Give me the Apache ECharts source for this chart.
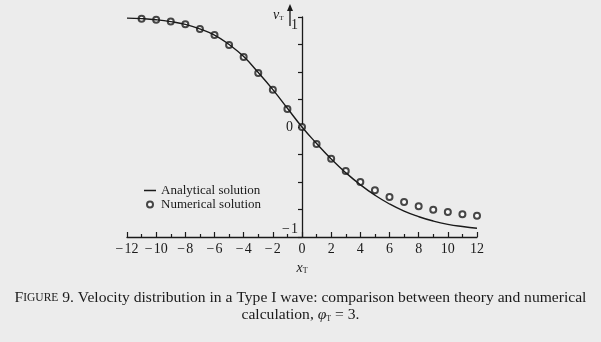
<!DOCTYPE html>
<html><head><meta charset="utf-8">
<script src="https://cdn.jsdelivr.net/npm/echarts@6/dist/echarts.min.js"></script>
<style>html,body{margin:0;padding:0;background:#ececec;}#c{width:601px;height:342px;}</style>
</head><body><div id="c"></div>
<script>
var xTicks = [-12,-10,-8,-6,-4,-2,0,2,4,6,8,10,12];
var yTickLabels = [-1,0,1];
var analyticalX = [-12,-11,-10,-9,-8,-7,-6,-5,-4,-3,-2,-1,0,1,2,3,4,5,6,7,8,9,10,11,12];
var analyticalY = [0.99,0.985,0.975,0.958,0.933,0.892,0.836,0.75,0.64,0.495,0.34,0.17,0,-0.15,-0.29,-0.415,-0.525,-0.62,-0.70,-0.765,-0.815,-0.855,-0.885,-0.905,-0.92];
var numericalX = [-11,-10,-9,-8,-7,-6,-5,-4,-3,-2,-1,0,1,2,3,4,5,6,7,8,9,10,11,12];
var numericalY = [0.984,0.974,0.959,0.934,0.892,0.837,0.746,0.636,0.49,0.338,0.164,0,-0.155,-0.289,-0.399,-0.5,-0.575,-0.636,-0.682,-0.721,-0.752,-0.773,-0.794,-0.806];

var serif = '"Liberation Serif","DejaVu Serif",serif';
var ink = '#1a1a1a';
function pairs(xs, ys){ return xs.map(function(x,i){ return [x, ys[i]]; }); }
function fmt(v){ return v < 0 ? '\u2212\u200a' + Math.abs(v) : String(v); }

var chart = echarts.init(document.getElementById('c'));
chart.setOption({
  backgroundColor: '#ececec',
  animation: false,
  textStyle: { fontFamily: serif, color: ink },
  grid: { left: 127, right: 124, top: 17, bottom: 105 },
  xAxis: {
    type: 'value', min: -12, max: 12, interval: 2,
    name: '{i|x}{s|T}', nameLocation: 'middle', nameGap: 22,
    nameTextStyle: { rich: { i: { fontFamily: serif, fontStyle: 'italic', fontSize: 14, color: ink }, s: { fontFamily: serif, fontSize: 8, color: ink, verticalAlign: 'bottom', padding: [6,0,0,0] } } },
    axisLine: { onZero: false, lineStyle: { color: ink, width: 1.3 } },
    axisTick: { inside: true, length: 5, lineStyle: { color: ink, width: 1.2 } },
    minorTick: { show: true, splitNumber: 2, length: 3, lineStyle: { color: ink, width: 1.2 } },
    axisLabel: { fontFamily: serif, fontSize: 14, color: ink, margin: 5, formatter: function(v){ return xTicks.indexOf(v) >= 0 ? fmt(v) : ''; } },
    splitLine: { show: false }
  },
  yAxis: {
    type: 'value', min: -1, max: 1, interval: 0.25, offset: -175,
    axisLine: { onZero: false, lineStyle: { color: ink, width: 1.3 } },
    axisTick: { length: 4, lineStyle: { color: ink, width: 1.2 } },
    axisLabel: { fontFamily: serif, fontSize: 14, color: ink, margin: 4,
      formatter: function(v){
        if (yTickLabels.indexOf(v) < 0) return '';
        if (v === 1) return '{dn|1}';
        if (v === -1) return '{up|' + fmt(v) + '}';
        return '{mid|' + fmt(v) + '}';
      },
      rich: {
        dn: { fontFamily: serif, fontSize: 14, color: ink, padding: [16,0,0,0] },
        up: { fontFamily: serif, fontSize: 14, color: ink, padding: [0,0,16,0] },
        mid: { fontFamily: serif, fontSize: 14, color: ink, padding: [0,5,0,0] }
      } },
    splitLine: { show: false }
  },
  legend: [
    { left: 139, top: 179, orient: 'vertical', itemGap: 6, itemWidth: 12, itemHeight: 1.5,
      textStyle: { fontFamily: serif, fontSize: 13, color: ink },
      data: [{ name: 'Analytical solution', icon: 'rect' }] },
    { left: 141, top: 193, orient: 'vertical', itemWidth: 6, itemHeight: 6, itemGap: 6,
      textStyle: { fontFamily: serif, fontSize: 13, color: ink, padding: [0,0,0,3] },
      data: [{ name: 'Numerical solution', icon: 'emptyCircle' }] }
  ],
  title: [
    { left: 'center', top: 285,
      text: '{b|F}{sc|IGURE} {n|9. Velocity distribution in a Type I wave: comparison between theory and numerical}',
      textStyle: { fontFamily: serif, fontSize: 15.6, color: ink, fontWeight: 'normal',
        rich: {
          b: { fontFamily: serif, fontSize: 15.6, color: ink },
          sc: { fontFamily: serif, fontSize: 11.5, color: ink },
          n: { fontFamily: serif, fontSize: 15.6, color: ink }
        } } },
    { left: 'center', top: 302,
      text: '{n|calculation, }{i|\u03c6}{s|T}{n| = 3.}',
      textStyle: { fontFamily: serif, fontSize: 15.6, color: ink, fontWeight: 'normal',
        rich: {
          n: { fontFamily: serif, fontSize: 15.6, color: ink },
          i: { fontFamily: serif, fontSize: 15.6, fontStyle: 'italic', color: ink },
          s: { fontFamily: serif, fontSize: 8, color: ink, padding: [8,0,0,0] }
        } } }
  ],
  graphic: [
    { type: 'text', left: 273, top: 8, style: { text: '{i|v}{s|T}', rich: { i: { fontFamily: serif, fontStyle: 'italic', fontSize: 14, fill: ink }, s: { fontFamily: serif, fontSize: 7, fill: ink, padding: [6,0,0,0] } } } },
    { type: 'line', shape: { x1: 290, y1: 26, x2: 290, y2: 8 }, style: { stroke: ink, lineWidth: 1.3 } },
    { type: 'polygon', shape: { points: [[287,11],[293,11],[290,4]] }, style: { fill: ink } }
  ],
  series: [
    { name: 'Analytical solution', type: 'line', smooth: true, showSymbol: false,
      data: pairs(analyticalX, analyticalY), lineStyle: { color: ink, width: 1.4 }, itemStyle: { color: ink } },
    { name: 'Numerical solution', type: 'scatter', symbol: 'emptyCircle', symbolSize: 6,
      data: pairs(numericalX, numericalY), itemStyle: { color: ink, borderColor: ink, borderWidth: 1 } }
  ]
});
</script></body></html>
